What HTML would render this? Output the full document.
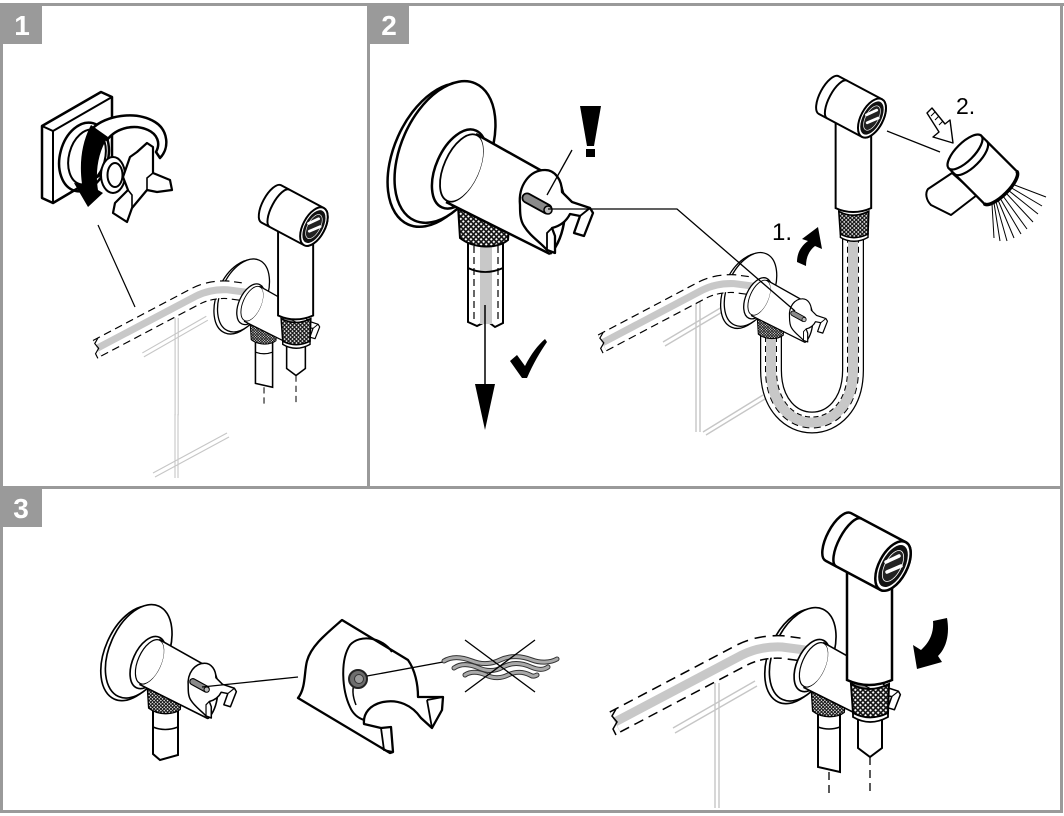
<!DOCTYPE html>
<html><head><meta charset="utf-8"><style>
html,body{margin:0;padding:0;background:#fff;width:1064px;height:816px;overflow:hidden;}
svg{display:block;}
</style></head><body>
<svg width="1064" height="816" viewBox="0 0 1064 816" xmlns="http://www.w3.org/2000/svg" font-family="Liberation Sans, Arial, sans-serif" overflow="hidden">
<defs>
  <pattern id="knurl" width="3.6" height="3.6" patternUnits="userSpaceOnUse" patternTransform="rotate(45)">
    <rect width="3.6" height="3.6" fill="#111"/>
    <rect x="0.8" y="0.8" width="2" height="2" fill="#fff"/>
  </pattern>
  <clipPath id="c1"><rect x="3" y="6" width="364" height="480"/></clipPath>
  <clipPath id="c2"><rect x="370" y="6" width="690" height="480"/></clipPath>
  <clipPath id="c3"><rect x="3" y="489" width="1057" height="321"/></clipPath>

  <g id="flange">
    <ellipse cx="439" cy="155" rx="45" ry="76" transform="rotate(24 439 155)" fill="#fff" stroke="#000" stroke-width="2.5"/>
    <ellipse cx="445" cy="152" rx="44" ry="75" transform="rotate(24 445 152)" fill="#fff" stroke="#000" stroke-width="2.5"/>
  </g>

  <g id="vbody">
    <path d="M458,206 L460,238 C474,249 497,249 508,240 L510,212 Z" fill="url(#knurl)" stroke="#000" stroke-width="2"/>
    <ellipse cx="459" cy="169" rx="23" ry="42" transform="rotate(24 459 169)" fill="#fff" stroke="#000" stroke-width="2.5"/>
    <ellipse cx="462" cy="168" rx="18" ry="36" transform="rotate(24 462 168)" fill="none" stroke="#000" stroke-width="1.8"/>
    <path d="M476,134 L558,180 L566,215 L550,254 L446,202 A18,36 24 0 0 476,134 Z" fill="#fff"/>
    <path d="M476,134 L558,180 M446,202 L550,254" stroke="#000" stroke-width="2.5" fill="none"/>
    <path d="M558,180 C570,200 566,238 550,254" fill="none" stroke="#000" stroke-width="2.5"/>
    <path d="M520,205 C518,185 530,170 545,170 C555,170 562,180 562,192 L572,202 L590,208 L593,213 L584,236 L574,233 L580,216 L570,214 C566,222 560,226 552,228 L555,236 L555,253 L547,250 C540,242 530,236 524,226 C520,220 520,212 520,205 Z" fill="#fff" stroke="#000" stroke-width="2.3" stroke-linejoin="round"/>
    <path d="M580,216 L590,208 M552,228 L547,233 L547,250" fill="none" stroke="#000" stroke-width="1.8"/>
    <line x1="527" y1="198" x2="547" y2="209" stroke="#000" stroke-width="11" stroke-linecap="round"/>
    <line x1="527" y1="198" x2="547" y2="209" stroke="#8a8a8a" stroke-width="7.5" stroke-linecap="round"/>
    <circle cx="548" cy="210" r="4" fill="#bbb" stroke="#000" stroke-width="1.5"/>
  </g>

  <g id="hose">
    <path d="M615,722 L742,655 Q760,646 782,647 L805,650" fill="none" stroke="#000" stroke-width="24" stroke-dasharray="10 6"/>
    <path d="M615,722 L742,655 Q760,646 782,647 L805,650" fill="none" stroke="#fff" stroke-width="21"/>
    <path d="M615,722 L742,655 Q760,646 782,647 L805,650" fill="none" stroke="#c8c8c8" stroke-width="9"/>
    <path d="M616,709 L612,716 L617,722 L613,729 L616,735" fill="none" stroke="#000" stroke-width="1.5"/>
  </g>

  <g id="sprayer">
    <path d="M847,570 L847,680 Q869,690 892,680 L892,570 Z" fill="#fff" stroke="#000" stroke-width="2.5"/>
    <path d="M851,684 Q869,694 889,684 L888,713 Q870,722 853,713 Z" fill="url(#knurl)" stroke="#000" stroke-width="2"/>
    <path d="M853,713 Q870,722 888,713 L888,717 Q870,727 853,717 Z" fill="#fff" stroke="#000" stroke-width="1.8"/>
    <g transform="translate(893,566) rotate(28)">
      <path d="M-62,-27 L0,-27 A14,27 0 0 1 0,27 L-62,27 A11,27 0 0 1 -62,-27 Z" fill="#fff" stroke="#000" stroke-width="2.5"/>
      <path d="M-50,-27 A10,27 0 0 0 -50,27" fill="none" stroke="#000" stroke-width="2.5"/>
      <ellipse rx="14" ry="27" fill="#fff" stroke="#000" stroke-width="2.5"/>
      <ellipse rx="11.5" ry="23" fill="#111"/>
      <ellipse rx="8" ry="17" fill="#222" stroke="#fff" stroke-width="0.8"/>
    </g>
    <path d="M886,562 L899,556 M887,572 L901,566" stroke="#fff" stroke-width="3.5" stroke-linecap="round"/>
  </g>

  <g id="scene3r">
    <path d="M715,683 L715,808 M719,683 L719,808 M673,728 L755,681 M675,733 L757,686" stroke="#c6c6c6" stroke-width="1.4" fill="none"/>
    <use href="#flange" transform="translate(509,554) scale(0.66)"/>
    <use href="#hose"/>
    <path d="M818,706 L818,767 L840,772 L840,706 Z" fill="#fff" stroke="#000" stroke-width="2"/>
    <path d="M818,727 Q829,731 840,727" fill="none" stroke="#000" stroke-width="1.6"/>
    <path d="M858,712 L858,748 L870,757 L882,748 L882,712 Z" fill="#fff" stroke="#000" stroke-width="2"/>
    <path d="M829,772 L829,795 M870,757 L870,795" stroke="#000" stroke-width="1.3" stroke-dasharray="8 5" fill="none"/>
    <use href="#vbody" transform="translate(509,554) scale(0.66)"/>
    <use href="#sprayer"/>
  </g>
</defs>

<rect width="1064" height="816" fill="#fff"/>

<!-- PANEL 1 -->
<g clip-path="url(#c1)">
  <path d="M42,126 L101,92 L112,97 L112,168 L53,203 L42,198 Z" fill="#fff" stroke="#000" stroke-width="2.5" stroke-linejoin="round"/>
  <path d="M42,126 L53,131 L112,97 M53,131 L53,203" fill="none" stroke="#000" stroke-width="2"/>
  <ellipse cx="84" cy="157" rx="24" ry="35" transform="rotate(15 84 157)" fill="none" stroke="#000" stroke-width="2.5"/>
  <ellipse cx="87" cy="157" rx="18" ry="28" transform="rotate(15 87 157)" fill="none" stroke="#000" stroke-width="2"/>
  <path d="M93,128 C105,116 135,110 155,122 C168,130 170,148 160,158 L156,152 C161,143 157,134 148,130 C135,124 117,127 107,140 Z" fill="#fff" stroke="#000" stroke-width="2.5" stroke-linejoin="round"/>
  <ellipse cx="113" cy="175" rx="12" ry="18" fill="#fff" stroke="#000" stroke-width="2"/>
  <ellipse cx="115" cy="175" rx="7.5" ry="12" fill="none" stroke="#000" stroke-width="2"/>
  <path d="M91,125 L108,137 C98,152 95,172 98,190 L103,193 L88,207 L74,183 L82,184 C79,162 82,142 91,125 Z" fill="#000"/>
  <path d="M130,157 L137,152 L147,143 L153,147 L153,173 L170,180 L172,190 L157,192 L147,190 L132,208 L127,222 L113,213 L115,203 L128,190 L123,177 Z" fill="#fff" stroke="#000" stroke-width="2.2" stroke-linejoin="round"/>
  <path d="M153,173 L147,178 L147,190 M128,190 L132,195 L132,208" fill="none" stroke="#000" stroke-width="1.6"/>
  <line x1="98" y1="225" x2="135" y2="307" stroke="#000" stroke-width="1.2"/>
  <path d="M175,414 L175,478 M178,414 L178,478 M153,473 L227,433 M155,477 L229,437" stroke="#c6c6c6" stroke-width="1.1" fill="none"/>
  <use href="#scene3r" transform="translate(-382.6,-214.9) scale(0.78)"/>
</g>

<!-- PANEL 2 -->
<g clip-path="url(#c2)">
  <use href="#flange"/>
  <path d="M468,238 L468,322 L477,326 L487,321 L495,327 L503,323 L503,238 Z" fill="#fff" stroke="#000" stroke-width="2"/>
  <rect x="480" y="245" width="12" height="79" fill="#c8c8c8"/>
  <path d="M474,246 L474,320 M498,246 L498,320" stroke="#000" stroke-width="1.2" stroke-dasharray="7 4"/>
  <path d="M468,268 Q485,276 503,268" fill="none" stroke="#000" stroke-width="1.8"/>
  <use href="#vbody"/>
  <line x1="485" y1="305" x2="485" y2="388" stroke="#000" stroke-width="1.5"/>
  <polygon points="475,384 495,384 485,430" fill="#000"/>
  <path d="M510,361 L517,355 L525,366 C531,354 538,345 545,339 L547,342 C540,352 533,364 527,378 L522,378 Z" fill="#000"/>
  <polygon points="580,106 601,106 594,146 587,146" fill="#000"/>
  <rect x="586" y="149" width="9" height="8" fill="#000"/>
  <line x1="572" y1="150" x2="547" y2="195" stroke="#000" stroke-width="1.3"/>

  <path d="M696,302 L696,432 M700,300 L700,432 M663,342 L722,307 M665,346 L724,311 M703,432 L763,395 M706,435 L765,399" stroke="#c6c6c6" stroke-width="1.4" fill="none"/>
  <use href="#flange" transform="translate(519.1,210.4) scale(0.52)"/>
  <use href="#hose" transform="translate(116.4,-227.5) scale(0.79)"/>
  <path d="M771,336 L771,370 C771,440 853,440 853,370 L853,238" fill="none" stroke="#000" stroke-width="22"/>
  <path d="M771,336 L771,370 C771,440 853,440 853,370 L853,238" fill="none" stroke="#fff" stroke-width="19.5"/>
  <path d="M771,336 L771,370 C771,440 853,440 853,370 L853,238" fill="none" stroke="#000" stroke-width="12" stroke-dasharray="6 4"/>
  <path d="M771,336 L771,370 C771,440 853,440 853,370 L853,238" fill="none" stroke="#c8c8c8" stroke-width="10"/>
  <use href="#vbody" transform="translate(519.1,210.4) scale(0.52)"/>
  <use href="#sprayer" transform="translate(166.5,-329.1) scale(0.79)"/>
  <polyline points="548,209 677,209 795,311" fill="none" stroke="#000" stroke-width="1.3"/>
  <path d="M797,262 L806,266 C806,256 810,250 815,246 L822,249 L818,227 L802,239 L808,241 C801,246 797,253 797,262 Z" fill="#000"/>
  <text x="772" y="240" font-size="24" fill="#000">1.</text>
  <text x="956" y="114" font-size="23" fill="#000">2.</text>
  <path d="M927,113 L932,108 L945,124 L950,120 L953,143 L933,137 L939,132 Z" fill="#fff" stroke="#000" stroke-width="1.4" stroke-linejoin="round"/>
  <path d="M931,116 L935,112 M935,120 L939,116 M939,125 L943,121" stroke="#000" stroke-width="1"/>
  <line x1="887" y1="131" x2="940" y2="152" stroke="#000" stroke-width="1.3"/>
  <path d="M952,173 L977,195 L951,215 L931,205 C926,200 925,193 928,189 Z" fill="#fff" stroke="#000" stroke-width="2" stroke-linejoin="round"/>
  <g stroke="#000" stroke-width="1">
    <line x1="1012" y1="184" x2="1046" y2="197"/>
    <line x1="1010" y1="187" x2="1042" y2="206"/>
    <line x1="1008" y1="190" x2="1038" y2="214"/>
    <line x1="1006" y1="193" x2="1033" y2="222"/>
    <line x1="1003" y1="196" x2="1027" y2="229"/>
    <line x1="1000" y1="198" x2="1021" y2="234"/>
    <line x1="998" y1="200" x2="1014" y2="238"/>
    <line x1="996" y1="202" x2="1007" y2="241"/>
    <line x1="994" y1="203" x2="1000" y2="241"/>
    <line x1="992" y1="204" x2="994" y2="238"/>
  </g>
  <g transform="translate(965,152) rotate(45)">
    <path d="M8,-23 L50,-23 A8,23 0 0 1 50,23 L8,23 Z" fill="#fff" stroke="#000" stroke-width="2.3"/>
    <path d="M50,-23 A8,23 0 0 1 50,23" fill="none" stroke="#000" stroke-width="3.5"/>
    <path d="M0,-23 L8,-23 A9,23 0 0 1 8,23 L0,23 Z" fill="#fff" stroke="#000" stroke-width="2.2"/>
    <ellipse rx="9" ry="23" fill="#fff" stroke="#000" stroke-width="2.2"/>
  </g>
</g>

<!-- PANEL 3 -->
<g clip-path="url(#c3)">
  <use href="#flange" transform="translate(-155,551) scale(0.66)"/>
  <path d="M153,706 L153,754 L160,760 L178,755 L178,706 Z" fill="#fff" stroke="#000" stroke-width="2"/>
  <path d="M153,727 Q165,732 178,727" fill="none" stroke="#000" stroke-width="1.6"/>
  <use href="#vbody" transform="translate(-155,551) scale(0.66)"/>
  <line x1="202" y1="687" x2="298" y2="677" stroke="#000" stroke-width="1.3"/>
  <path d="M342,620 L408,660 C415,670 418,684 418,697 L443,697 L442,710 L432,728 L421,718 C412,705 398,699 383,702 C370,705 363,713 364,724 L381,728 L391,727 L393,752 L390,753 L298,698 C306,688 304,672 307,661 C311,646 326,634 342,620 Z" fill="#fff" stroke="#000" stroke-width="2.3" stroke-linejoin="round"/>
  <path d="M427,700 L443,697 M427,700 L432,728 M381,728 L384,750 L393,752" fill="none" stroke="#000" stroke-width="1.8"/>
  <path d="M392,652 C382,637 360,634 350,645 C340,660 342,690 350,707 C353,714 358,718 364,720" fill="none" stroke="#000" stroke-width="2"/>
  <path d="M356,705 C352,695 352,688 355,682" fill="none" stroke="#000" stroke-width="1.5"/>
  <circle cx="358" cy="679" r="9" fill="#6d6d6d" stroke="#222" stroke-width="2"/>
  <circle cx="359" cy="679" r="4.5" fill="#9a9a9a" stroke="#333" stroke-width="1"/>
  <line x1="367" y1="676" x2="443" y2="662" stroke="#000" stroke-width="1.3"/>
  <g fill="none" stroke-linecap="round">
    <path d="M444,661 C452,656 462,657 472,661 C482,665 492,664 500,660 C510,655 522,656 532,660 C540,663 550,663 557,659" stroke="#333" stroke-width="5"/>
    <path d="M444,661 C452,656 462,657 472,661 C482,665 492,664 500,660 C510,655 522,656 532,660 C540,663 550,663 557,659" stroke="#aaa" stroke-width="3"/>
    <path d="M454,668 C461,663 470,664 479,668 C488,672 496,671 503,667 C512,662 522,663 531,667 C538,670 544,670 548,667" stroke="#333" stroke-width="5"/>
    <path d="M454,668 C461,663 470,664 479,668 C488,672 496,671 503,667 C512,662 522,663 531,667 C538,670 544,670 548,667" stroke="#aaa" stroke-width="3"/>
    <path d="M465,675 C471,671 479,672 486,675 C494,679 502,678 508,675 C516,671 524,672 530,675 C533,677 535,676 537,675" stroke="#333" stroke-width="5"/>
    <path d="M465,675 C471,671 479,672 486,675 C494,679 502,678 508,675 C516,671 524,672 530,675 C533,677 535,676 537,675" stroke="#aaa" stroke-width="3"/>
  </g>
  <path d="M465,640 L535,692 M535,640 L465,692" stroke="#000" stroke-width="1.3"/>
  <use href="#scene3r"/>
  <path d="M933,621 L947,618 C950,635 946,648 938,656 L942,662 L917,669 L913,645 L921,650 C930,642 934,632 933,621 Z" fill="#000"/>
</g>

<!-- FRAMES -->
<g fill="#9a9a9a">
  <rect x="0" y="3" width="1064" height="3"/>
  <rect x="0" y="3" width="3" height="810"/>
  <rect x="1060" y="3" width="3" height="810"/>
  <rect x="0" y="810" width="1063" height="3"/>
  <rect x="367" y="3" width="3" height="485"/>
  <rect x="0" y="486" width="1063" height="3"/>
  <rect x="0" y="3" width="42" height="41"/>
  <rect x="369" y="3" width="40" height="41"/>
  <rect x="0" y="488" width="42" height="39"/>
</g>
<g fill="#fff" font-weight="bold" font-size="28" text-anchor="middle">
  <text x="22" y="35">1</text>
  <text x="389" y="35">2</text>
  <text x="21" y="518">3</text>
</g>
</svg>
</body></html>
